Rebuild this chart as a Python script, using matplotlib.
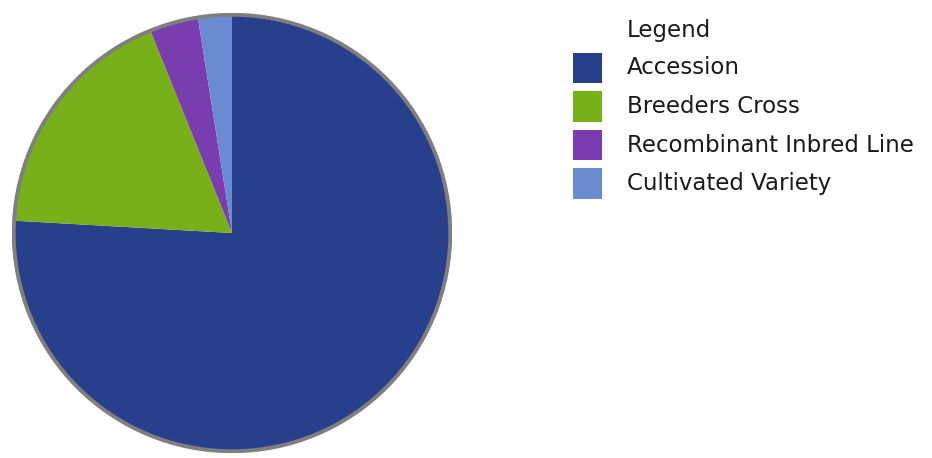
import matplotlib
matplotlib.use('Agg')
import matplotlib.pyplot as plt
from matplotlib.patches import Circle, Rectangle

# slice shares (percent)
labels = ['Accession', 'Breeders Cross', 'Recombinant Inbred Line', 'Cultivated Variety']
values = [75.9, 18.0, 3.6, 2.5]
colors = ['#283f8c', '#78b01a', '#7a3db0', '#6a8bcf']

W, H = 932, 458
fig = plt.figure(figsize=(W / 100, H / 100), dpi=100)

# pie axes: centre ~(232, 233) px, radius ~220 px incl. grey rim
cx, cy, r = 232, 233, 220
ax = fig.add_axes([(cx - r) / W, (H - cy - r) / H, 2 * r / W, 2 * r / H])
ax.pie(values, colors=colors, startangle=90, counterclock=False, radius=1,
       wedgeprops=dict(linewidth=0))
ax.add_patch(Circle((0, 0), 1, fill=False, edgecolor='#7f7f7f', linewidth=2.8))
ax.set_xlim(-1.008, 1.008)
ax.set_ylim(-1.008, 1.008)
ax.set_aspect('equal')
ax.axis('off')

# legend drawn by hand so the title lines up with the labels
font = 'DejaVu Sans'
fs = 16.5
fig.text(627 / W, 1 - 30 / H, 'Legend', fontsize=fs, family=font, va='center', ha='left',
         color='#1a1a1a')
for i, (lab, col) in enumerate(zip(labels, colors)):
    yc = 68 + i * 38.5
    fig.add_artist(Rectangle((573 / W, 1 - (yc + 15) / H), 29 / W, 30 / H,
                             transform=fig.transFigure, facecolor=col, edgecolor='none'))
    fig.text(627 / W, 1 - yc / H, lab, fontsize=fs, family=font, va='center', ha='left',
             color='#1a1a1a')

fig.savefig('out.png', dpi=100)
